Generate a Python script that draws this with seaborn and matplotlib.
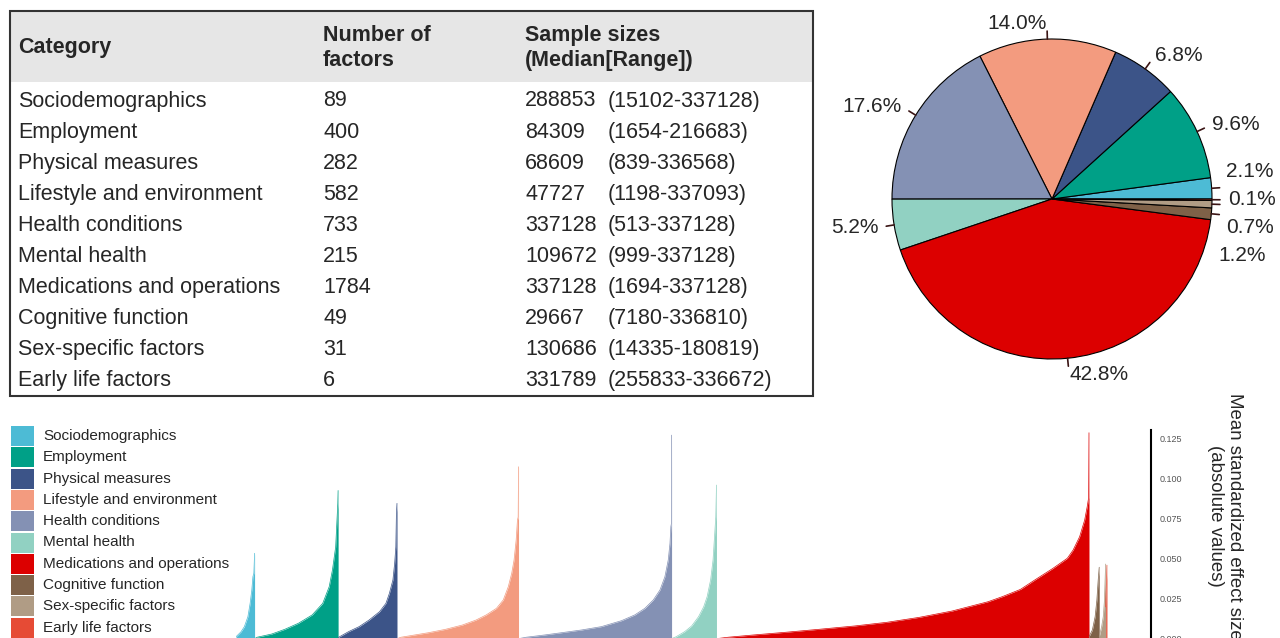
import numpy as np
import pandas as pd
import seaborn as sns
import matplotlib
matplotlib.use("Agg")
import matplotlib.pyplot as plt
from matplotlib.patches import Rectangle

# ---- data ----
categories = ["Sociodemographics", "Employment", "Physical measures",
              "Lifestyle and environment", "Health conditions", "Mental health",
              "Medications and operations", "Cognitive function",
              "Sex-specific factors", "Early life factors"]
n_factors = [89, 400, 282, 582, 733, 215, 1784, 49, 31, 6]
sample_median = [288853, 84309, 68609, 47727, 337128, 109672, 337128, 29667, 130686, 331789]
sample_range = ["15102-337128", "1654-216683", "839-336568", "1198-337093",
                "513-337128", "999-337128", "1694-337128", "7180-336810",
                "14335-180819", "255833-336672"]
colors = ["#4DBBD5", "#00A087", "#3C5488", "#F39B7F", "#8491B4",
          "#91D1C2", "#DC0000", "#7E6148", "#B09C85", "#E64B35"]

# sorted effect sizes per category at fractions of the
# visible part of each category (the smallest values are too low to show)
vis_start = [0.0, 0.03, 0.01, 0.033, 0.05, 0.10, 0.031, 0.0, 0.0, 0.0]
socio_pos = [0, 0.27, 0.45, 0.64, 0.76, 0.85, 0.91, 0.96, 1.0]
socio_es = [0.0014, 0.0045, 0.0077, 0.0139, 0.0222, 0.0305, 0.0388, 0.0410, 0.0534]
employment_pos = [0, 0.18, 0.34, 0.51, 0.68, 0.81, 0.89, 0.93, 0.97, 0.98, 0.996, 1.0]
employment_es = [0.0011, 0.0031, 0.0060, 0.0098, 0.0150, 0.0222, 0.0326, 0.0430, 0.0575, 0.0679, 0.0845, 0.0925]
physical_pos = [0, 0.17, 0.35, 0.52, 0.70, 0.81, 0.87, 0.93, 0.96, 0.98, 0.99, 1.0]
physical_es = [0.0011, 0.0046, 0.0077, 0.0118, 0.0170, 0.0222, 0.0285, 0.0368, 0.0472, 0.0575, 0.0783, 0.0845]
lifestyle_pos = [0, 0.116, 0.232, 0.377, 0.522, 0.638, 0.725, 0.812, 0.870, 0.913, 0.942, 0.962, 0.980, 0.991, 0.997, 1.0]
lifestyle_es = [0.0011, 0.0025, 0.0039, 0.0060, 0.0087, 0.0118, 0.0150, 0.0191, 0.0243, 0.0326, 0.0409, 0.0492, 0.0617, 0.0741, 0.0760, 0.1073]
health_pos = [0, 0.126, 0.241, 0.379, 0.517, 0.655, 0.747, 0.816, 0.874, 0.920, 0.954, 0.977, 0.989, 0.995, 0.999, 1.0]
health_es = [0.0011, 0.0025, 0.0039, 0.0056, 0.0077, 0.0114, 0.0150, 0.0191, 0.0243, 0.0305, 0.0388, 0.0492, 0.0596, 0.0700, 0.0720, 0.1270]
mental_pos = [0, 0.214, 0.385, 0.556, 0.684, 0.769, 0.855, 0.915, 0.957, 0.983, 1.0]
mental_es = [0.0014, 0.0046, 0.0081, 0.0139, 0.0201, 0.0264, 0.0368, 0.0492, 0.0658, 0.0762, 0.0959]
medication_pos = [0, 0.07, 0.16, 0.25, 0.35, 0.44, 0.53, 0.62, 0.72, 0.76, 0.81, 0.85,
                  0.90, 0.94, 0.956, 0.974, 0.988, 0.995, 0.999, 1.0]
medication_es = [0.0011, 0.0025, 0.0042, 0.0060, 0.0081, 0.0104, 0.0135, 0.0174, 0.0232, 0.0264, 0.0309, 0.0368,
                 0.0440, 0.0503, 0.0554, 0.0637, 0.0741, 0.0824, 0.0880, 0.1285]
cognitive_pos = [0, 0.33, 0.6, 0.77, 0.9, 1.0]
cognitive_es = [0.0014, 0.0056, 0.0139, 0.0243, 0.0368, 0.0447]
sex_pos = [0, 0.375, 0.625, 0.81, 0.94, 1.0]
sex_es = [0.0014, 0.0077, 0.0139, 0.0243, 0.0409, 0.0467]
early_pos = [0, 0.2, 0.4, 0.6, 0.8, 1.0]
early_es = [0.020, 0.026, 0.031, 0.036, 0.040, 0.046]

profile_pos = [socio_pos, employment_pos, physical_pos, lifestyle_pos, health_pos,
               mental_pos, medication_pos, cognitive_pos, sex_pos, early_pos]
profile_es = [socio_es, employment_es, physical_es, lifestyle_es, health_es,
              mental_es, medication_es, cognitive_es, sex_es, early_es]
y_ticks = [0, 0.025, 0.05, 0.075, 0.1, 0.125]

sns.set_theme(style="white")
plt.rcParams["font.family"] = ["Liberation Sans", "DejaVu Sans"]

fig = plt.figure(figsize=(12.8, 6.38), dpi=100)

# background axes in pixel coords for table + legend
ax_bg = fig.add_axes([0, 0, 1, 1])
ax_bg.set_xlim(0, 1280)
ax_bg.set_ylim(638, 0)
ax_bg.axis("off")

# ---- table ----
TFS = 15.5
ax_bg.add_patch(Rectangle((10, 11), 803, 71, facecolor="#e6e6e6", edgecolor="none"))
ax_bg.add_patch(Rectangle((10, 11), 803, 385, fill=False, edgecolor="#333333", lw=1.5))
ax_bg.text(18, 48, "Category", fontsize=TFS, fontweight="bold", va="center")
ax_bg.text(323, 48, "Number of\nfactors", fontsize=TFS, fontweight="bold", va="center", linespacing=1.3)
ax_bg.text(525, 48, "Sample sizes\n(Median[Range])", fontsize=TFS, fontweight="bold", va="center", linespacing=1.3)
for i, cat in enumerate(categories):
    y = 101 + 31.1 * i
    ax_bg.text(18, y, cat, fontsize=TFS, va="center")
    ax_bg.text(323, y, str(n_factors[i]), fontsize=TFS, va="center")
    ax_bg.text(525, y, str(sample_median[i]), fontsize=TFS, va="center")
    ax_bg.text(608, y, "(" + sample_range[i] + ")", fontsize=TFS, va="center")

# ---- legend for bottom panel ----
for i, (cat, col) in enumerate(zip(categories, colors)):
    ax_bg.add_patch(Rectangle((11, 426 + 21.3 * i), 23, 20, facecolor=col, edgecolor="none"))
    ax_bg.text(43, 436 + 21.3 * i, cat, fontsize=11, va="center")

# ---- pie ----
ax_pie = fig.add_axes([892 / 1280, (638 - 359) / 638, 320 / 1280, 320 / 638])
wedges, _ = ax_pie.pie(n_factors, colors=colors, startangle=0, counterclock=True,
                       wedgeprops=dict(edgecolor="black", linewidth=0.8))
ax_pie.set_xlim(-1, 1)
ax_pie.set_ylim(-1, 1)
ax_pie.set_aspect("equal")
total = sum(n_factors)
mids = [np.deg2rad((w.theta1 + w.theta2) / 2) for w in wedges]
lab_xy = [(1.1 * np.cos(a), 1.1 * np.sin(a)) for a in mids]
# spread the crowded small labels near 0 deg
ang = [((np.rad2deg(a) + 180) % 360) - 180 for a in mids]
cluster = [i for i in range(len(ang)) if abs(ang[i]) < 10]
if cluster:
    anchor = min(cluster, key=lambda i: abs(ang[i]))
    order = sorted(cluster, key=lambda i: -ang[i])
    k0 = order.index(anchor)
    y0 = lab_xy[anchor][1]
    for k, i in enumerate(order):
        yy = y0 - (k - k0) * 0.175
        lab_xy[i] = (np.sqrt(1.1 ** 2 - yy ** 2), yy)
for i, a in enumerate(mids):
    ax_pie.plot([np.cos(a), 1.05 * np.cos(a)], [np.sin(a), 1.05 * np.sin(a)],
                color="#3a1414", lw=1.2, clip_on=False)
    lx, ly = lab_xy[i]
    ax_pie.text(lx, ly, f"{100 * n_factors[i] / total:.1f}%", fontsize=15,
                ha="left" if np.cos(a) >= 0 else "right", va="center")

# ---- sorted effect size panel (categories side by side, one rank per factor) ----
rows = []
start = 0
for cat, n, v0, pos, es in zip(categories, n_factors, vis_start, profile_pos, profile_es):
    if v0 > 0:
        rows.append((cat, start, 0.0002))
    for f, v in zip(pos, es):
        rows.append((cat, start + (v0 + f * (1 - v0)) * n, v))
    start += n
df = pd.DataFrame(rows, columns=["category", "rank", "effect"])

ax = fig.add_axes([236 / 1280, -1 / 638, 915 / 1280, 209 / 638])
for cat, col in zip(categories, colors):
    sub = df[df["category"] == cat]
    ax.fill_between(sub["rank"], 0, sub["effect"], color=col, lw=0)
sns.lineplot(data=df, x="rank", y="effect", hue="category", hue_order=categories,
             palette=dict(zip(categories, colors)), legend=False, estimator=None,
             lw=0.5, ax=ax)
ax.set_xlim(0, 4382)
ax.set_ylim(0, 0.1302)
ax.set_facecolor("none")
ax.yaxis.tick_right()
ax.set_yticks(y_ticks)
ax.set_yticklabels([f"{t:.3f}" for t in y_ticks])
ax.set_xticks([])
ax.tick_params(axis="y", length=0, pad=6, labelsize=6.5, labelcolor="#555555")
for s in ["left", "top", "bottom"]:
    ax.spines[s].set_visible(False)
ax.spines["right"].set_color("black")
ax.spines["right"].set_linewidth(1.5)
ax.set_xlabel("")
ax.yaxis.set_label_position("right")
ax.set_ylabel("Mean standardized effect size\n(absolute values)", fontsize=13.4,
              rotation=270, ha="center", va="center", linespacing=1.1)
ax.yaxis.set_label_coords(1.081, 0.5885)

fig.savefig("out.png", dpi=100)
